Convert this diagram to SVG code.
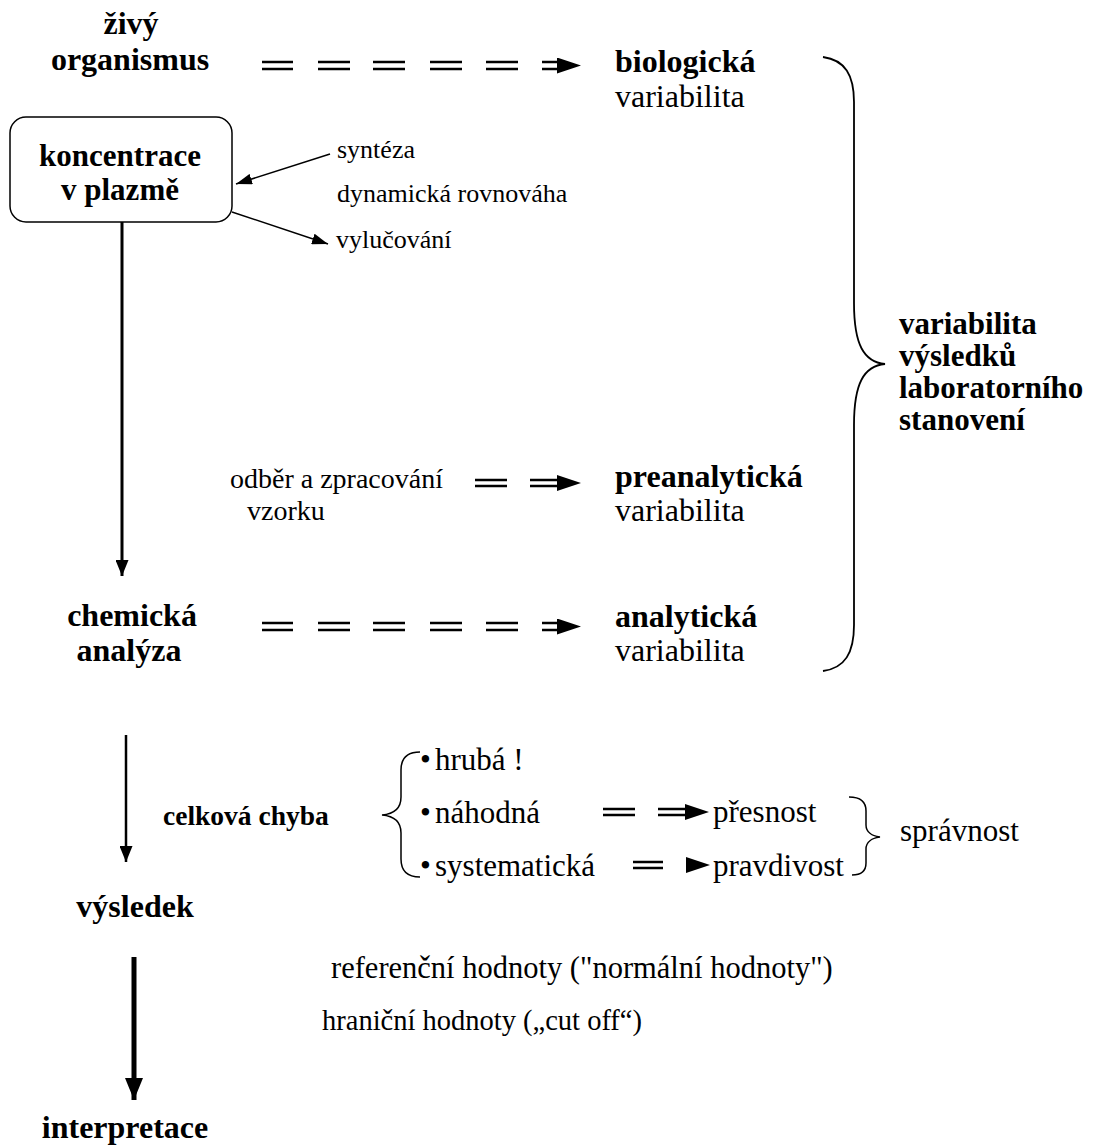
<svg xmlns="http://www.w3.org/2000/svg" width="1096" height="1148" viewBox="0 0 1096 1148">
<defs>
<style>
text{font-family:"Liberation Serif","Times New Roman",serif;fill:#000}
.b{font-weight:bold;font-size:32px}
.b2{font-weight:bold;font-size:31px}
.bs{font-weight:bold;font-size:31px}
.c{font-weight:bold;font-size:27.5px}
.r{font-size:32px}
.s{font-size:26px}
.o{font-size:28px}
.m{font-size:31px}
.h1{font-size:30.5px}
.h2{font-size:28.5px}
.ln{stroke:#000;fill:none}
.dd{stroke:#000;stroke-width:2.6;fill:none}
.hd{stroke:none;fill:none}
</style>
<marker id="ah" viewBox="0 0 10 10" refX="10" refY="5" markerWidth="16" markerHeight="11" markerUnits="userSpaceOnUse" orient="auto" preserveAspectRatio="none"><path d="M0,0L10,5L0,10Z" fill="#000"/></marker>
<marker id="ahd" viewBox="0 0 10 10" refX="10" refY="5" markerWidth="24" markerHeight="16" markerUnits="userSpaceOnUse" orient="auto" preserveAspectRatio="none"><path d="M0,0L10,5L0,10Z" fill="#000"/></marker>
<marker id="ahv" viewBox="0 0 10 10" refX="10" refY="5" markerWidth="16" markerHeight="13" markerUnits="userSpaceOnUse" orient="auto" preserveAspectRatio="none"><path d="M0,0L10,5L0,10Z" fill="#000"/></marker>
<marker id="ahv2" viewBox="0 0 10 10" refX="10" refY="5" markerWidth="22" markerHeight="18" markerUnits="userSpaceOnUse" orient="auto" preserveAspectRatio="none"><path d="M0,0L10,5L0,10Z" fill="#000"/></marker>
</defs>
<rect width="1096" height="1148" fill="#fff"/>

<g id="zivy">
<text class="b" x="131" y="34" text-anchor="middle">živý</text>
<text class="b" x="130" y="70" text-anchor="middle">organismus</text>
</g>
<g id="biologicka">
<text class="b" x="615" y="72">biologická</text>
<text class="r" x="615" y="107">variabilita</text>
</g>
<g id="koncentrace">
<rect x="10" y="117" width="222" height="105" rx="16" fill="#fff" stroke="#000" stroke-width="1.5"/>
<text class="b2" x="120" y="166" text-anchor="middle">koncentrace</text>
<text class="b2" x="120" y="200" text-anchor="middle">v plazmě</text>
</g>
<g id="procesy">
<text class="s" x="337" y="158">syntéza</text>
<text class="s" x="337" y="202">dynamická rovnováha</text>
<text class="s" x="336" y="248">vylučování</text>
</g>
<g id="souhrn">
<text class="bs" x="899" y="334">variabilita</text>
<text class="bs" x="899" y="366">výsledků</text>
<text class="bs" x="899" y="398">laboratorního</text>
<text class="bs" x="899" y="430">stanovení</text>
</g>
<g id="odber">
<text class="o" x="230" y="488">odběr a zpracování</text>
<text class="o" x="247" y="520">vzorku</text>
</g>
<g id="preanalyticka">
<text class="b" x="615" y="487">preanalytická</text>
<text class="r" x="615" y="521">variabilita</text>
</g>
<g id="chemicka">
<text class="b" x="132" y="626" text-anchor="middle">chemická</text>
<text class="b" x="129" y="661" text-anchor="middle">analýza</text>
</g>
<g id="analyticka">
<text class="b" x="615" y="627">analytická</text>
<text class="r" x="615" y="661">variabilita</text>
</g>
<g id="chyba">
<text class="c" x="163" y="825">celková chyba</text>
<text class="m" x="420" y="770">•</text>
<text class="m" x="435" y="770">hrubá !</text>
<text class="m" x="420" y="823">•</text>
<text class="m" x="435" y="823">náhodná</text>
<text class="m" x="420" y="876">•</text>
<text class="m" x="435" y="876">systematická</text>
</g>
<g id="presnost"><text class="m" x="713" y="822">přesnost</text></g>
<g id="pravdivost"><text class="m" x="713" y="876">pravdivost</text></g>
<g id="spravnost"><text class="m" x="900" y="841">správnost</text></g>
<g id="vysledek"><text class="b" x="135" y="917" text-anchor="middle">výsledek</text></g>
<g id="hodnoty">
<text class="h1" x="331" y="978">referenční hodnoty ("normální hodnoty")</text>
<text class="h2" x="322" y="1030">hraniční hodnoty („cut off“)</text>
</g>
<g id="interpretace"><text class="b" x="125" y="1138" text-anchor="middle">interpretace</text></g>

<g id="connectors">
<g class="dd">
<path d="M262,62H293M262,69H293M318,62H350M318,69H350M373,62H405M373,69H405M430,62H462M430,69H462M486,62H518M486,69H518M542,62H562M542,69H562"/>
<path d="M262,623H293M262,630H293M318,623H350M318,630H350M373,623H405M373,630H405M430,623H462M430,630H462M486,623H518M486,630H518M542,623H562M542,630H562"/>
<path d="M475,480H507M475,486H507M530,480H562M530,486H562"/>
<path d="M603,809H635M603,815H635M658,809H690M658,815H690"/>
<path d="M633,862H663M633,868H663"/>
</g>
<path class="hd" d="M550,65.5H581" marker-end="url(#ahd)"/>
<path class="hd" d="M550,626.5H581" marker-end="url(#ahd)"/>
<path class="hd" d="M550,483H581" marker-end="url(#ahd)"/>
<path class="hd" d="M678,812H709" marker-end="url(#ahd)"/>
<path class="hd" d="M680,865H710" marker-end="url(#ahd)"/>
<line x1="330" y1="154" x2="236" y2="184" class="ln" stroke-width="1.5" marker-end="url(#ah)"/>
<line x1="232" y1="212" x2="328" y2="244" class="ln" stroke-width="1.5" marker-end="url(#ah)"/>
<line x1="122" y1="222" x2="122" y2="576" class="ln" stroke-width="3" marker-end="url(#ahv)"/>
<line x1="126" y1="735" x2="126" y2="862" class="ln" stroke-width="2.5" marker-end="url(#ahv)"/>
<line x1="134" y1="957" x2="134" y2="1100" class="ln" stroke-width="5" marker-end="url(#ahv2)"/>
<path d="M823,57C845,60 854,75 854,102V303C854,345 864,362 885,364C864,366 854,383 854,425V625C854,653 845,668 823,671" class="ln" stroke-width="1.8"/>
<path d="M420,752C407,752 401,758 401,770V797C401,808 394,814 382,815C394,816 401,822 401,833V859C401,871 407,877 420,877" class="ln" stroke-width="1.5"/>
<path d="M849,797C861,797 866,802 866,811V825C866,832 872,836 880,837C872,838 866,842 866,849V863C866,871 861,875 852,875" class="ln" stroke-width="1.5"/>
</g>
</svg>
